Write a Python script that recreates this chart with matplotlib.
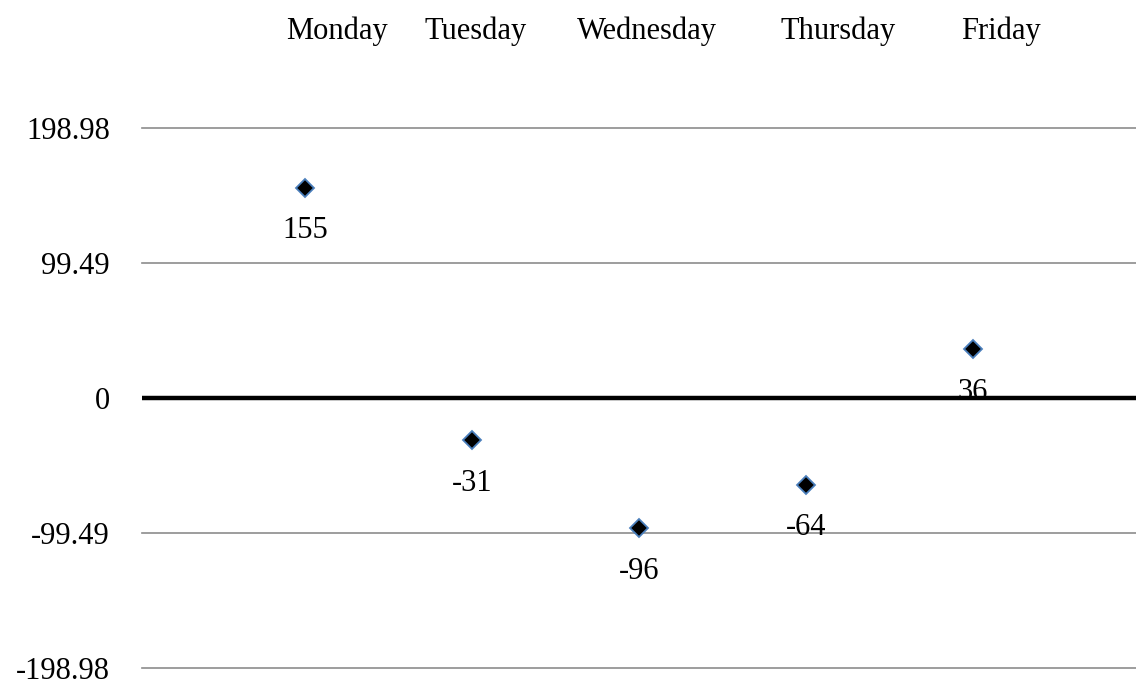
import matplotlib.pyplot as plt
import numpy as np

days = ["Monday", "Tuesday", "Wednesday", "Thursday", "Friday"]
values = [155, -31, -96, -64, 36]
y_ticks = [-198.98, -99.49, 0, 99.49, 198.98]
y_tick_labels = ["-198.98", "-99.49", "0", "99.49", "198.98"]

# where the day names sit along the category axis
label_x = [0.19, 1.02, 2.05, 3.19, 4.17]

plt.rcParams["font.family"] = ["Liberation Serif", "DejaVu Serif"]

fig = plt.figure(figsize=(11.36, 6.88), dpi=100)
ax = fig.add_axes([0.125, 0.029, 0.875, 0.785])

x = np.arange(len(days))
ax.plot(x, values, linestyle="none", marker="D", markersize=9.5,
        markerfacecolor="black", markeredgecolor="#4a7ebb", markeredgewidth=1.3,
        zorder=4)

for xi, v in zip(x, values):
    ax.annotate(str(v), (xi, v), xytext=(0, -31), textcoords="offset points",
                ha="center", va="center", fontsize=22, color="black", zorder=5)

ax.set_xlim(-0.976, 4.976)
ax.set_ylim(-198.98, 198.98)

ax.set_yticks(y_ticks)
ax.set_yticklabels(y_tick_labels, fontsize=22)
ax.tick_params(axis="y", length=0, pad=23)

ax.xaxis.tick_top()
ax.set_xticks(label_x)
ax.set_xticklabels(days, fontsize=22)
ax.tick_params(axis="x", length=0, pad=59)

for yv in y_ticks:
    if yv == 0:
        continue
    ax.axhline(yv, color="#8c8c8c", linewidth=1.2, zorder=1, clip_on=False)
ax.axhline(0, color="black", linewidth=3.2, zorder=2)

for s in ax.spines.values():
    s.set_visible(False)

fig.savefig("out.png", dpi=100)
